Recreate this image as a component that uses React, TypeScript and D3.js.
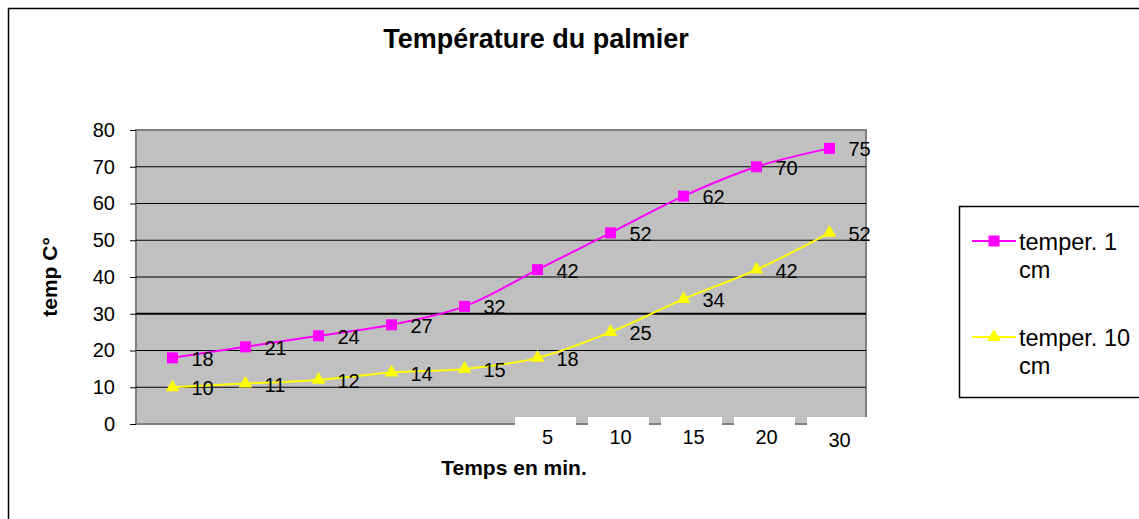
import React, { useEffect, useRef } from 'react';
import * as d3 from 'd3';

const categories = ['c1', 'c2', 'c3', 'c4', 'c5', 'c6', 'c7', 'c8', 'c9', 'c10'];
const xTickLabels = ['', '', '', '', '', '5', '10', '15', '20', '30'];
const temp1cm = [18, 21, 24, 27, 32, 42, 52, 62, 70, 75];
const temp10cm = [10, 11, 12, 14, 15, 18, 25, 34, 42, 52];
const yTicks = [0, 10, 20, 30, 40, 50, 60, 70, 80];

const FONT = '"Liberation Sans", Arial, sans-serif';

const App: React.FC = () => {
  const svgRef = useRef<SVGSVGElement | null>(null);

  useEffect(() => {
    const width = 1139;
    const height = 519;
    const plot = { left: 136, top: 130, right: 866, bottom: 424 };

    const svg = d3.select(svgRef.current)
      .attr('width', width)
      .attr('height', height);
    svg.selectAll('*').remove();

    svg.append('rect').attr('width', width).attr('height', height).attr('fill', '#fff');

    // outer frame
    svg.append('rect')
      .attr('x', 8.5).attr('y', 8.5)
      .attr('width', width + 20).attr('height', height + 20)
      .attr('fill', 'none').attr('stroke', '#000').attr('stroke-width', 1.5);

    const xScale = d3.scaleBand<string>()
      .domain(categories)
      .range([plot.left, plot.right]);

    const yScale = d3.scaleLinear()
      .domain([0, 80])
      .range([plot.bottom, plot.top]);

    const cx = (i: number) => (xScale(categories[i]) as number) + xScale.bandwidth() / 2;

    // plot area
    svg.append('rect')
      .attr('x', plot.left).attr('y', plot.top)
      .attr('width', plot.right - plot.left).attr('height', plot.bottom - plot.top)
      .attr('fill', '#c0c0c0').attr('stroke', '#808080').attr('stroke-width', 2);

    // gridlines
    svg.append('g')
      .selectAll('line')
      .data(yTicks.filter(t => t > 0 && t < 80))
      .join('line')
      .attr('x1', plot.left).attr('x2', plot.right)
      .attr('y1', d => yScale(d)).attr('y2', d => yScale(d))
      .attr('stroke', '#000')
      .attr('stroke-width', d => (d === 30 ? 2 : 1));

    // y axis
    const yAxis = svg.append('g')
      .attr('transform', `translate(${plot.left},0)`)
      .call(d3.axisLeft(yScale).tickValues(yTicks).tickSize(6).tickPadding(15));
    yAxis.select('.domain').remove();
    yAxis.selectAll('.tick line').attr('stroke', '#000');
    yAxis.selectAll('.tick text')
      .attr('font-family', FONT).attr('font-size', 20).attr('fill', '#000');

    // x tick labels with white boxes
    const xl = svg.append('g');
    categories.forEach((c, i) => {
      if (!xTickLabels[i]) return;
      const x0 = (xScale(c) as number) + 14;
      const w = xScale.bandwidth() - 12;
      xl.append('rect')
        .attr('x', x0).attr('y', plot.bottom - 7)
        .attr('width', w).attr('height', 30)
        .attr('fill', '#fff');
      xl.append('text')
        .attr('x', x0 + w / 2 + 2)
        .attr('y', i === categories.length - 1 ? 447 : 444)
        .attr('text-anchor', 'middle')
        .attr('font-family', FONT).attr('font-size', 20)
        .text(xTickLabels[i]);
    });

    const series = [
      { name: 'temper. 1 cm', values: temp1cm, color: '#ff00ff', marker: 'square' },
      { name: 'temper. 10 cm', values: temp10cm, color: '#ffff00', marker: 'triangle' },
    ];

    const line = d3.line<number>()
      .x((_, i) => cx(i))
      .y(d => yScale(d))
      .curve(d3.curveCatmullRom.alpha(0.5));

    const sq = d3.symbol().type(d3.symbolSquare).size(121);
    const tri = d3.symbol().type(d3.symbolTriangle).size(80);

    series.forEach(s => {
      svg.append('path')
        .datum(s.values)
        .attr('fill', 'none')
        .attr('stroke', s.color)
        .attr('stroke-width', 2)
        .attr('d', line);

      svg.append('g')
        .selectAll('path')
        .data(s.values)
        .join('path')
        .attr('transform', (d, i) => `translate(${cx(i)},${yScale(d)})`)
        .attr('d', (s.marker === 'square' ? sq : tri)() as string)
        .attr('fill', s.color);

      svg.append('g')
        .selectAll('text')
        .data(s.values)
        .join('text')
        .attr('x', (_, i) => cx(i) + 19)
        .attr('y', d => yScale(d) + 8)
        .attr('font-family', FONT).attr('font-size', 20)
        .attr('fill', '#000')
        .text(d => String(d));
    });

    // title
    svg.append('text')
      .attr('x', 536).attr('y', 48)
      .attr('text-anchor', 'middle')
      .attr('font-family', FONT).attr('font-size', 27).attr('font-weight', 'bold')
      .text('Température du palmier');

    // axis titles
    svg.append('text')
      .attr('x', 514).attr('y', 475)
      .attr('text-anchor', 'middle')
      .attr('font-family', FONT).attr('font-size', 21).attr('font-weight', 'bold')
      .text('Temps en min.');

    svg.append('text')
      .attr('transform', 'translate(57,277) rotate(-90)')
      .attr('text-anchor', 'middle')
      .attr('font-family', FONT).attr('font-size', 21).attr('font-weight', 'bold')
      .text('temp C°');

    // legend
    const lg = svg.append('g');
    lg.append('rect')
      .attr('x', 959.5).attr('y', 206.5)
      .attr('width', 200).attr('height', 191)
      .attr('fill', '#fff').attr('stroke', '#000').attr('stroke-width', 1.5);

    const legendRows = [241, 337];
    series.forEach((s, i) => {
      const y = legendRows[i];
      const cut = s.name.lastIndexOf(' ');
      lg.append('line')
        .attr('x1', 972).attr('x2', 1016)
        .attr('y1', y).attr('y2', y)
        .attr('stroke', s.color).attr('stroke-width', 2);
      lg.append('path')
        .attr('transform', `translate(994,${y})`)
        .attr('d', (s.marker === 'square' ? sq : tri)() as string)
        .attr('fill', s.color);
      lg.append('text')
        .attr('x', 1019).attr('y', y + 9)
        .attr('font-family', FONT).attr('font-size', 23.5)
        .text(s.name.slice(0, cut));
      lg.append('text')
        .attr('x', 1019).attr('y', y + 37)
        .attr('font-family', FONT).attr('font-size', 23.5)
        .text(s.name.slice(cut + 1));
    });
  }, []);

  return <svg ref={svgRef} style={{ position: 'absolute', left: 0, top: 0 }}></svg>;
};

export default App;
